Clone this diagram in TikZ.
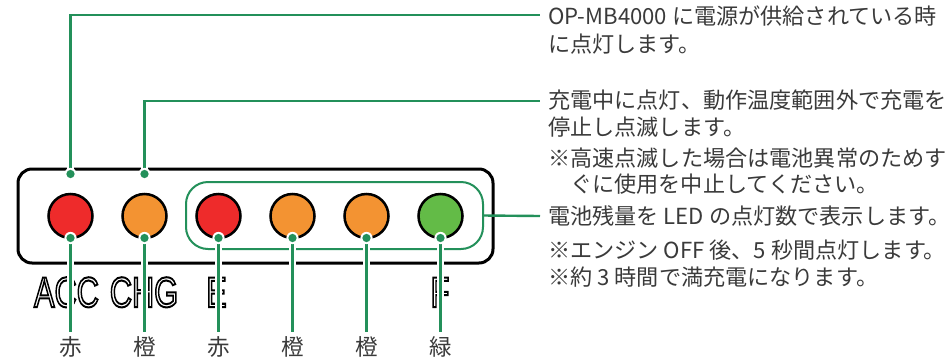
\documentclass[tikz,border=0pt]{standalone}
\usepackage{fontspec}
\setmainfont{Noto Sans CJK JP}
\newfontfamily\ledfont{Liberation Sans}
\usetikzlibrary{calc}
\definecolor{lg}{HTML}{23905A}
\definecolor{txt}{HTML}{3A3A3A}
\definecolor{ledred}{HTML}{EE2B2B}
\definecolor{ledorange}{HTML}{F39332}
\definecolor{ledgreen}{HTML}{63BB47}
\tikzset{
  ledlamp/.style={circle, draw=black, line width=1.9pt, minimum size=33pt, inner sep=0pt, outer sep=0pt},
  desc/.style={anchor=base west, inner sep=0pt, text=txt, font=\fontsize{16.6pt}{20pt}\selectfont},
  colname/.style={anchor=base, inner sep=0pt, text=txt, font=\fontsize{16.9pt}{20pt}\selectfont},
  lbl/.style={anchor=base, inner sep=0pt, text=black, font=\ledfont\fontsize{32pt}{36pt}\selectfont},
  halo/.style={draw=white, line width=4.6pt},
  conn/.style={draw=lg, line width=1.8pt},
}
\newcommand\outlinetext[1]{\scalebox{0.72}[1]{\special{pdf:literal direct 1 Tr 1.5 w}#1\special{pdf:literal direct 0 Tr}}}
\begin{document}
\begin{tikzpicture}[x=0.75pt,y=-0.75pt]
\useasboundingbox (0,0) rectangle (951,358);

% housing
\draw[line width=2.25pt, rounded corners=10.5pt] (18,169) rectangle (493,263);
\node[draw=lg, line width=1.5pt, rounded corners=16.5pt, minimum width=222.75pt, minimum height=50.25pt, inner sep=0pt, outer sep=0pt] (grp) at (334.5,215.5) {};

% LEDs
\node[ledlamp, fill=ledred]    (l1) at (70.5,216) {};
\node[ledlamp, fill=ledorange] (l2) at (144.5,216) {};
\node[ledlamp, fill=ledred]    (l3) at (218.5,216) {};
\node[ledlamp, fill=ledorange] (l4) at (292.5,216) {};
\node[ledlamp, fill=ledorange] (l5) at (366.5,216) {};
\node[ledlamp, fill=ledgreen]  (l6) at (440.5,216) {};

% outlined labels
\node[lbl] (acc) at (66.5,307) {\outlinetext{ACC}};
\node[lbl] (chg) at (144,307) {\outlinetext{CHG}};
\node[lbl] (ee) at (216.5,307) {\outlinetext{E}};
\node[lbl] (ff) at (440,307) {\outlinetext{F}};

% description texts
\node[desc] (t1) at (548,24.5) {OP-MB4000 に電源が供給されている時};
\node[desc] (t2) at (548,52.5) {に点灯します。};
\node[desc] (t3) at (548,108.5) {充電中に点灯、動作温度範囲外で充電を};
\node[desc] (t4) at (548,135.5) {停止し点滅します。};
\node[desc] (t5) at (548,166.5) {※高速点滅した場合は電池異常のためす};
\node[desc] (t6) at (570,192.5) {ぐに使用を中止してください。};
\node[desc] (t7) at (548,224.5) {電池残量を LED の点灯数で表示します。};
\node[desc] (t8) at (548,258.5) {※エンジン OFF 後、5 秒間点灯します。};
\node[desc] (t9) at (548,285.5) {※約 3 時間で満充電になります。};

% colour names
\node[colname] (c1) at (70.5,355) {赤};
\node[colname] (c2) at (144.5,355) {橙};
\node[colname] (c3) at (218.5,355) {赤};
\node[colname] (c4) at (292.5,355) {橙};
\node[colname] (c5) at (366.5,355) {橙};
\node[colname] (c6) at (440.5,355) {緑};

% connector end points
\coordinate (a1) at (70.5,174);
\coordinate (a2) at (144.5,174);
\coordinate (e1) at (540,15);
\coordinate (e2) at (540,101);
\coordinate (e3) at (540,216);
\foreach \i in {1,...,6}{ \coordinate (b\i) at ($(l\i.south)+(0,94)$); }

% top connectors
\path[halo] (a1) |- (e1);
\path[conn] (a1) |- (e1);
\path[halo] (a2) |- (e2);
\path[conn] (a2) |- (e2);
% group connector
\path[conn] (grp.east) -- (e3);
% bottom connectors
\foreach \i in {1,...,6}{
  \path[halo] (l\i.south) -- (b\i);
  \path[conn] (l\i.south) -- (b\i);
}
% dots
\foreach \p in {a1,a2,l1.south,l2.south,l3.south,l4.south,l5.south,l6.south}{
  \fill[white] (\p) circle (4.6pt);
  \fill[lg] (\p) circle (3.1pt);
}
\end{tikzpicture}
\end{document}
